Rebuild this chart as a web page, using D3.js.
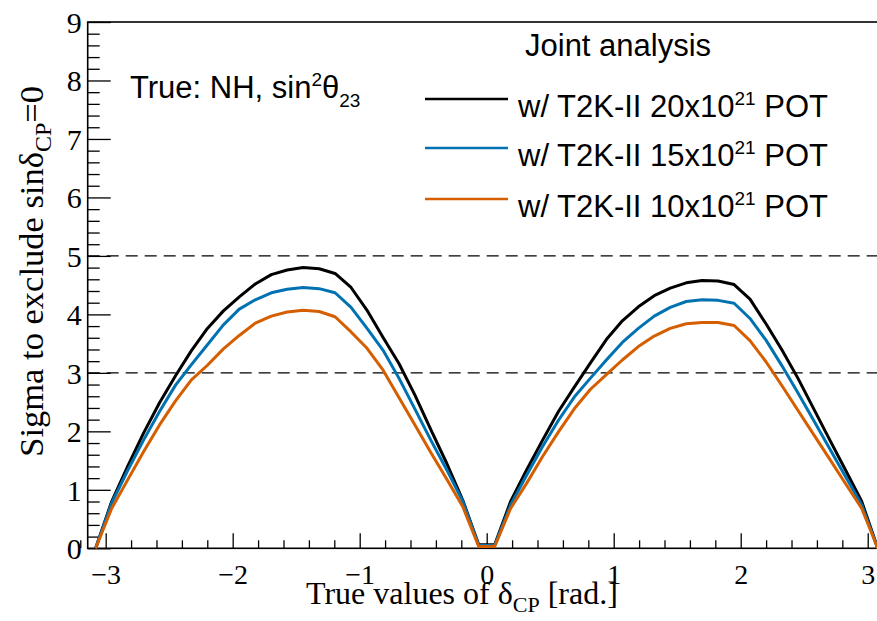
<!DOCTYPE html>
<html>
<head>
<meta charset="utf-8">
<script src="https://cdn.jsdelivr.net/npm/d3@7"></script>
<style>
  html, body { margin: 0; padding: 0; background: #fff; }
  svg { display: block; }
</style>
</head>
<body>
<div id="chart"></div>
<script>
// true delta_CP values (bin centres, rad.)
const deltaCP = [
  -3.079, -2.953, -2.827, -2.702, -2.576, -2.450, -2.325, -2.199, -2.073, -1.948,
  -1.822, -1.696, -1.571, -1.445, -1.319, -1.194, -1.068, -0.942, -0.817, -0.691,
  -0.565, -0.440, -0.314, -0.188, -0.063, 0.063, 0.188, 0.314, 0.440, 0.565,
  0.691, 0.817, 0.942, 1.068, 1.194, 1.319, 1.445, 1.571, 1.696, 1.822,
  1.948, 2.073, 2.199, 2.325, 2.450, 2.576, 2.702, 2.827, 2.953, 3.079,
];

// sigma to exclude sin(delta_CP)=0
const sigma20 = [
  0, 0.80, 1.40, 1.97, 2.49, 2.95, 3.38, 3.76, 4.06, 4.30,
  4.52, 4.68, 4.76, 4.80, 4.78, 4.70, 4.46, 4.07, 3.61, 3.16,
  2.62, 2.03, 1.45, 0.82, 0.06, 0.06, 0.80, 1.34, 1.85, 2.34,
  2.76, 3.17, 3.57, 3.89, 4.13, 4.32, 4.45, 4.54, 4.58, 4.57,
  4.51, 4.26, 3.84, 3.39, 2.91, 2.38, 1.85, 1.33, 0.80, 0,
];
const sigma15 = [
  0, 0.77, 1.33, 1.85, 2.34, 2.79, 3.14, 3.48, 3.82, 4.09,
  4.25, 4.37, 4.43, 4.46, 4.44, 4.37, 4.12, 3.76, 3.39, 2.91,
  2.38, 1.85, 1.34, 0.80, 0.05, 0.05, 0.74, 1.25, 1.74, 2.19,
  2.59, 2.91, 3.22, 3.52, 3.76, 3.97, 4.12, 4.22, 4.25, 4.24,
  4.19, 3.93, 3.56, 3.12, 2.66, 2.18, 1.70, 1.22, 0.74, 0,
];
const sigma10 = [
  0, 0.68, 1.17, 1.65, 2.11, 2.52, 2.88, 3.13, 3.41, 3.64,
  3.85, 3.97, 4.04, 4.07, 4.05, 3.96, 3.70, 3.42, 3.05, 2.58,
  2.11, 1.64, 1.18, 0.71, 0.03, 0.03, 0.68, 1.11, 1.57, 1.99,
  2.39, 2.72, 2.97, 3.22, 3.45, 3.63, 3.76, 3.84, 3.86, 3.86,
  3.81, 3.55, 3.19, 2.78, 2.36, 1.94, 1.52, 1.10, 0.68, 0,
];

const seriesPot = ['20', '15', '10'];
const seriesColors = ['#000000', '#0072b2', '#d55e00'];
const seriesValues = [sigma20, sigma15, sigma10];

const xTicks = [-3, -2, -1, 0, 1, 2, 3];
const yTicks = [0, 1, 2, 3, 4, 5, 6, 7, 8, 9];
const refLevels = [3, 5];

const width = 877;
const height = 621;
const margin = {
  t: 22,
  r: -8.7,
  b: 72.7,
  l: 87.7,
};
const serif = "'Liberation Serif', 'Times New Roman', serif";
const sans = "'Liberation Sans', Arial, Helvetica, sans-serif";

const svg = d3
  .select('#chart')
  .append('svg')
  .attr('width', width)
  .attr('height', height)
  .attr('viewBox', [0, 0, width, height]);

svg.append('rect').attr('width', width).attr('height', height).attr('fill', '#fff');

const x = d3.scaleLinear().domain([-Math.PI, Math.PI]).range([margin.l, width - margin.r]);
const y = d3.scaleLinear().domain([0, 9]).range([height - margin.b, margin.t]);

// minor ticks
const xMinor = d3.range(-3.2, 3.21, 0.2).filter((v) => Math.abs(v - Math.round(v)) > 0.01);
const yMinor = d3.range(0, 9.01, 0.2).filter((v) => Math.abs(v - Math.round(v)) > 0.01);

svg
  .append('g')
  .attr('transform', `translate(0, ${y(0)})`)
  .call(d3.axisBottom(x).tickValues(xMinor).tickSize(-8).tickFormat(''))
  .call((g) => g.select('.domain').remove())
  .selectAll('line')
  .attr('stroke', '#000')
  .attr('stroke-width', 1.3);

svg
  .append('g')
  .attr('transform', `translate(0, ${y(0)})`)
  .call(d3.axisBottom(x).tickValues(xTicks).tickSize(-15).tickFormat(d3.format('d')))
  .call((g) => g.select('.domain').remove())
  .call((g) => g.selectAll('line').attr('stroke', '#000').attr('stroke-width', 1.3))
  .selectAll('text')
  .attr('y', 36)
  .attr('dy', 0)
  .attr('fill', '#000')
  .style('font-family', serif)
  .style('font-size', '28px');

svg
  .append('g')
  .attr('transform', `translate(${x(-Math.PI)}, 0)`)
  .call(d3.axisLeft(y).tickValues(yMinor).tickSize(-12).tickFormat(''))
  .call((g) => g.select('.domain').remove())
  .selectAll('line')
  .attr('stroke', '#000')
  .attr('stroke-width', 1.3);

svg
  .append('g')
  .attr('transform', `translate(${x(-Math.PI)}, 0)`)
  .call(d3.axisLeft(y).tickValues(yTicks).tickSize(-23).tickPadding(6).tickFormat(d3.format('d')))
  .call((g) => g.select('.domain').remove())
  .call((g) => g.selectAll('line').attr('stroke', '#000').attr('stroke-width', 1.3))
  .selectAll('text')
  .attr('dy', '0.34em')
  .attr('fill', '#000')
  .style('font-family', serif)
  .style('font-size', '30px');

// frame
svg
  .append('rect')
  .attr('x', x(-Math.PI))
  .attr('y', y(9))
  .attr('width', x(Math.PI) - x(-Math.PI))
  .attr('height', y(0) - y(9))
  .attr('fill', 'none')
  .attr('stroke', '#000')
  .attr('stroke-width', 1.6);

// 3 and 5 sigma reference lines
svg
  .selectAll('.ref')
  .data(refLevels)
  .join('line')
  .attr('class', 'ref')
  .attr('x1', x(-Math.PI))
  .attr('x2', x(Math.PI))
  .attr('y1', (d) => y(d))
  .attr('y2', (d) => y(d))
  .attr('stroke', '#000')
  .attr('stroke-width', 1.3)
  .attr('stroke-dasharray', '12,7');

const line = d3
  .line()
  .x((d, i) => x(deltaCP[i]))
  .y((d) => y(d));

svg
  .selectAll('.curve')
  .data(seriesValues)
  .join('path')
  .attr('class', 'curve')
  .attr('d', (d) => line(d))
  .attr('fill', 'none')
  .attr('stroke', (d, i) => seriesColors[i])
  .attr('stroke-width', 3)
  .attr('stroke-linejoin', 'round');

// legend
svg
  .append('text')
  .attr('x', 525)
  .attr('y', 56)
  .style('font-family', sans)
  .style('font-size', '31px')
  .text('Joint analysis');

const lineY = [99, 148, 199];
const textY = [116.7, 165.7, 216.7];
const entry = svg
  .selectAll('.entry')
  .data(seriesPot)
  .join('g')
  .attr('class', 'entry');

entry
  .append('line')
  .attr('x1', 425)
  .attr('x2', 508)
  .attr('y1', (d, i) => lineY[i])
  .attr('y2', (d, i) => lineY[i])
  .attr('stroke', (d, i) => seriesColors[i])
  .attr('stroke-width', 2.5);

const entryText = entry
  .append('text')
  .attr('x', 518)
  .attr('y', (d, i) => textY[i])
  .style('font-family', sans)
  .style('font-size', '31px');
entryText.append('tspan').text((d) => `w/ T2K-II ${d}x10`);
entryText.append('tspan').attr('dy', -12).style('font-size', '19px').text('21');
entryText.append('tspan').attr('dy', 12).text(' POT');

// hypothesis label
const hyp = svg
  .append('text')
  .attr('x', 130)
  .attr('y', 98)
  .style('font-family', sans)
  .style('font-size', '31px');
hyp.append('tspan').text('True: NH, sin');
hyp.append('tspan').attr('dy', -12).style('font-size', '19px').text('2');
hyp.append('tspan').attr('dy', 12).text('θ');
hyp.append('tspan').attr('dy', 9).style('font-size', '19px').text('23');

// axis titles
const xTitle = svg
  .append('text')
  .attr('x', 306)
  .attr('y', 604)
  .style('font-family', serif)
  .style('font-size', '32px');
xTitle.append('tspan').text('True values of δ');
xTitle.append('tspan').attr('dy', 8).style('font-size', '22px').text('CP');
xTitle.append('tspan').attr('dy', -8).text(' [rad.]');

const yTitle = svg
  .append('text')
  .attr('transform', 'translate(43, 86) rotate(-90)')
  .attr('text-anchor', 'end')
  .style('font-family', serif)
  .style('font-size', '34.5px');
yTitle.append('tspan').text('Sigma to exclude sinδ');
yTitle.append('tspan').attr('dy', 8).style('font-size', '24px').text('CP');
yTitle.append('tspan').attr('dy', -8).text('=0');
</script>
</body>
</html>
